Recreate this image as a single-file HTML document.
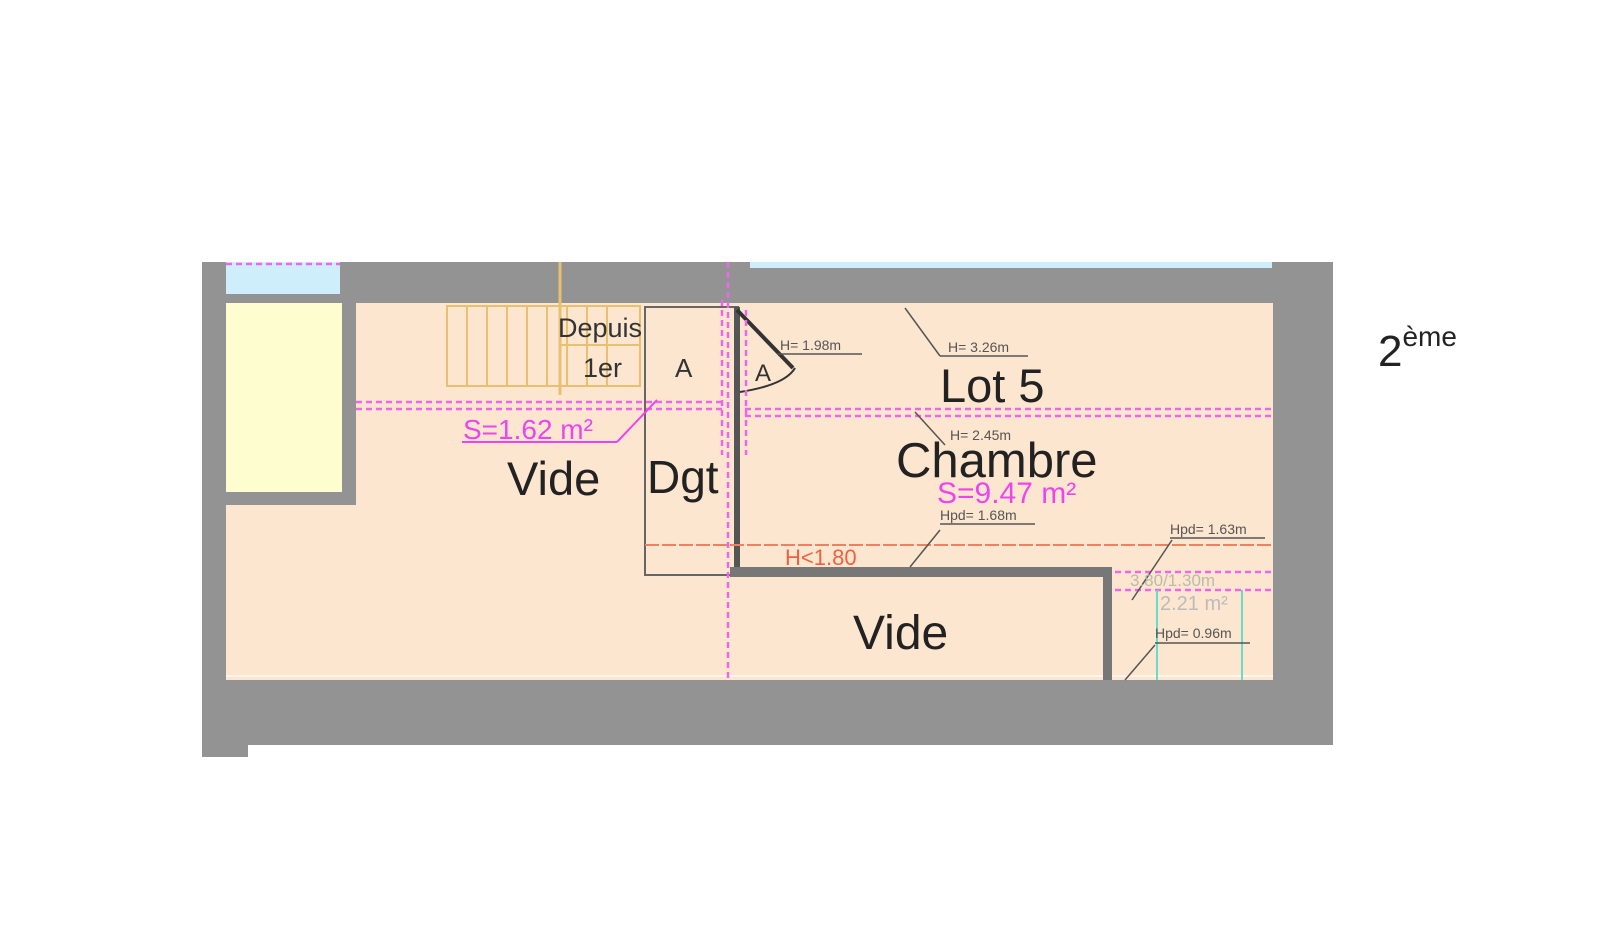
<!DOCTYPE html>
<html><head><style>body{margin:0;background:#fff}svg{display:block}text{font-family:"Liberation Sans",sans-serif}</style></head>
<body>
<svg width="1600" height="925" viewBox="0 0 1600 925" xmlns="http://www.w3.org/2000/svg">
<rect width="1600" height="925" fill="#fff"/>
<rect x="202" y="262" width="1131" height="483" fill="#939393"/>
<rect x="202" y="740" width="46" height="17" fill="#939393"/>
<rect x="226" y="262" width="114" height="32" fill="#cdeefa"/>
<rect x="750" y="262" width="522" height="6" fill="#cdeefa"/>
<rect x="226" y="303" width="116" height="189" fill="#fdfdd0"/>
<rect x="356" y="303" width="917" height="377" fill="#fde6cf"/>
<rect x="226" y="505" width="140" height="175" fill="#fde6cf"/>
<line x1="226" y1="676" x2="1273" y2="676" stroke="#fff" stroke-width="2" opacity="0.6"/>
<g stroke="#e8c070" stroke-width="2" fill="none">
<rect x="447" y="306" width="193" height="80"/>
<line x1="467" y1="306" x2="467" y2="386"/><line x1="487" y1="306" x2="487" y2="386"/><line x1="507" y1="306" x2="507" y2="386"/><line x1="527" y1="306" x2="527" y2="386"/><line x1="547" y1="306" x2="547" y2="386"/><line x1="567" y1="306" x2="567" y2="386"/><line x1="587" y1="306" x2="587" y2="386"/><line x1="607" y1="306" x2="607" y2="386"/><line x1="560" y1="262" x2="560" y2="395" stroke-width="3"/>
<line x1="560" y1="345" x2="640" y2="345"/>
</g>
<rect x="645" y="307" width="93" height="268" fill="none" stroke="#666" stroke-width="2"/>
<rect x="734" y="307" width="6" height="268" fill="#555"/>
<rect x="730" y="567" width="382" height="10" fill="#777"/>
<rect x="1103" y="567" width="9" height="113" fill="#777"/>
<line x1="737" y1="310" x2="793" y2="368" stroke="#333" stroke-width="4"/>
<path d="M740 392 Q785 385 795 368" fill="none" stroke="#333" stroke-width="2"/>
<g stroke="#ee66ee" stroke-width="2.5" stroke-dasharray="6 4" fill="none">
<line x1="356" y1="402" x2="725" y2="402"/><line x1="356" y1="409" x2="725" y2="409"/>
<line x1="745" y1="409" x2="1273" y2="409"/><line x1="745" y1="416" x2="1273" y2="416"/>
<line x1="728" y1="262" x2="728" y2="680"/><line x1="722" y1="300" x2="722" y2="455"/><line x1="746" y1="310" x2="746" y2="455"/>
<line x1="1115" y1="572" x2="1273" y2="572"/><line x1="1115" y1="590" x2="1273" y2="590"/>
<line x1="226" y1="264" x2="340" y2="264"/>
</g>
<line x1="462" y1="442" x2="617" y2="442" stroke="#ee44ee" stroke-width="2"/>
<line x1="617" y1="442" x2="657" y2="400" stroke="#ee44ee" stroke-width="2"/>
<line x1="645" y1="545" x2="1273" y2="545" stroke="#f08060" stroke-width="2" stroke-dasharray="14 3"/>
<line x1="1157" y1="590" x2="1157" y2="680" stroke="#66ddcc" stroke-width="2"/>
<line x1="1242" y1="590" x2="1242" y2="680" stroke="#66ddcc" stroke-width="2"/>
<g stroke="#555" stroke-width="1.5" fill="none">
<line x1="905" y1="308" x2="940" y2="356"/><line x1="940" y1="356" x2="1028" y2="356"/>
<line x1="777" y1="354" x2="862" y2="354"/>
<line x1="915" y1="412" x2="945" y2="445"/>
<line x1="940" y1="524" x2="1035" y2="524"/><line x1="940" y1="530" x2="910" y2="567"/>
<line x1="1170" y1="538" x2="1265" y2="538"/><line x1="1172" y1="540" x2="1132" y2="600"/>
<line x1="1155" y1="643" x2="1250" y2="643"/><line x1="1155" y1="645" x2="1125" y2="680"/>
</g>
<text x="558" y="337" font-size="27" fill="#333">Depuis</text>
<text x="583" y="377" font-size="27" fill="#333">1er</text>
<text x="675" y="377" font-size="26" fill="#333">A</text>
<text x="755" y="381" font-size="24" fill="#333">A</text>
<text x="463" y="439" font-size="28" fill="#ee44ee">S=1.62 m²</text>
<text x="507" y="495" font-size="47" fill="#222">Vide</text>
<text x="647" y="493" font-size="46" fill="#222">Dgt</text>
<text x="780" y="350" font-size="14" fill="#555">H= 1.98m</text>
<text x="948" y="352" font-size="14" fill="#555">H= 3.26m</text>
<text x="940" y="402" font-size="47" fill="#222">Lot 5</text>
<text x="950" y="440" font-size="14" fill="#555">H= 2.45m</text>
<text x="896" y="477" font-size="49" fill="#222">Chambre</text>
<text x="937" y="503" font-size="30" fill="#ee44ee">S=9.47 m²</text>
<text x="940" y="520" font-size="14" fill="#555">Hpd= 1.68m</text>
<text x="1170" y="534" font-size="14" fill="#555">Hpd= 1.63m</text>
<text x="785" y="565" font-size="22" fill="#f06040">H&lt;1.80</text>
<text x="1130" y="586" font-size="17" fill="#bba">3.80/1.30m</text>
<text x="1160" y="610" font-size="20" fill="#bbb">2.21 m²</text>
<text x="1155" y="638" font-size="14" fill="#555">Hpd= 0.96m</text>
<text x="853" y="649" font-size="48" fill="#222">Vide</text>
<text x="1378" y="366" font-size="44" fill="#222">2<tspan font-size="28" dy="-20">ème</tspan></text>
</svg>
</body></html>
